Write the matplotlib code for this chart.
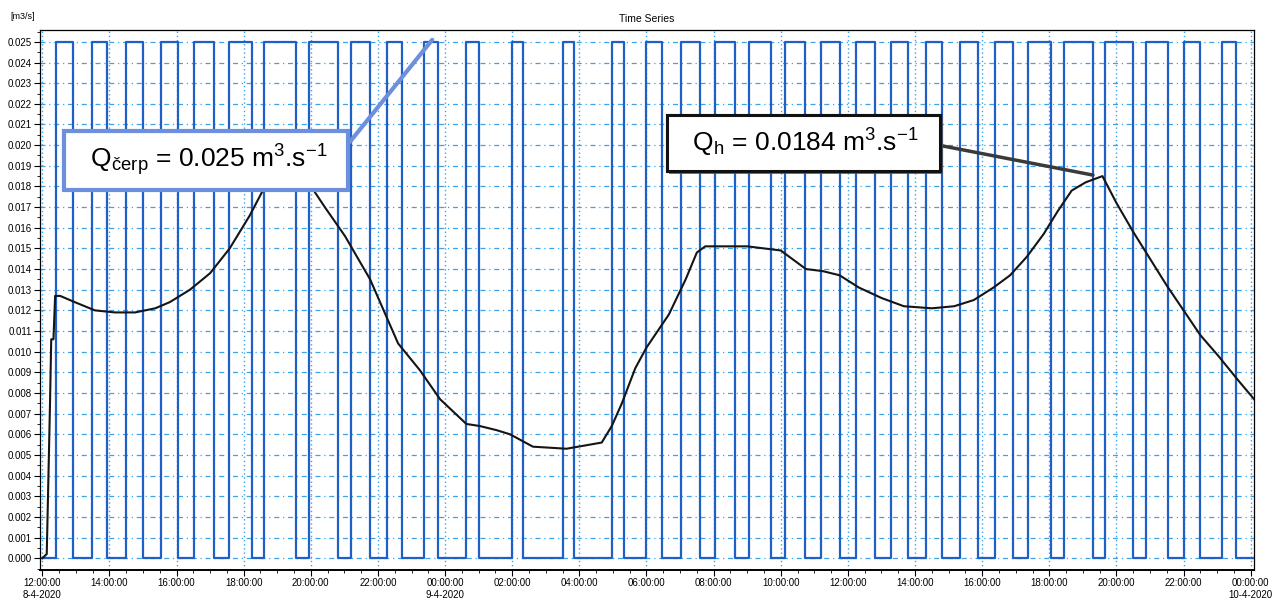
import numpy as np
import pandas as pd
import matplotlib
matplotlib.use("Agg")
import matplotlib.pyplot as plt
import matplotlib.dates as mdates
import matplotlib.patheffects as pe
from matplotlib.ticker import MultipleLocator, AutoMinorLocator, FuncFormatter

plt.rcParams['font.family'] = ['Liberation Sans', 'DejaVu Sans']
plt.rcParams['mathtext.fontset'] = 'custom'
plt.rcParams['mathtext.rm'] = 'Liberation Sans'
plt.rcParams['mathtext.default'] = 'regular'

# pumping (Q cerp) on/off switching times
pump_on = ["04-08 12:25", "04-08 13:28", "04-08 14:30", "04-08 15:32", "04-08 16:32",
           "04-08 17:33", "04-08 18:37", "04-08 19:56", "04-08 21:11", "04-08 22:16",
           "04-08 23:23", "04-09 00:38", "04-09 02:00", "04-09 03:31", "04-09 04:59",
           "04-09 06:00", "04-09 07:02", "04-09 08:02", "04-09 09:04", "04-09 10:08",
           "04-09 11:12", "04-09 12:15", "04-09 13:17", "04-09 14:19", "04-09 15:20",
           "04-09 16:23", "04-09 17:22", "04-09 18:26", "04-09 19:40", "04-09 20:53",
           "04-09 22:01", "04-09 23:08"]
pump_off = ["04-08 12:55", "04-08 13:56", "04-08 15:00", "04-08 16:03", "04-08 17:07",
            "04-08 18:14", "04-08 19:33", "04-08 20:49", "04-08 21:46", "04-08 22:43",
            "04-08 23:47", "04-09 01:00", "04-09 02:20", "04-09 03:51", "04-09 05:19",
            "04-09 06:28", "04-09 07:35", "04-09 08:39", "04-09 09:42", "04-09 10:44",
            "04-09 11:46", "04-09 12:48", "04-09 13:47", "04-09 14:49", "04-09 15:52",
            "04-09 16:55", "04-09 18:03", "04-09 19:19", "04-09 20:30", "04-09 21:33",
            "04-09 22:30", "04-09 23:33"]
q_pump = 0.025
series_start = "04-08 12:00"
series_end = "04-10 00:06"

# inflow Qh
qh_time = ["04-08 12:00", "04-08 12:08", "04-08 12:14", "04-08 12:16", "04-08 12:20",
           "04-08 12:23", "04-08 12:32", "04-08 12:58", "04-08 13:34", "04-08 14:10",
           "04-08 14:46", "04-08 15:22", "04-08 15:48", "04-08 16:24", "04-08 17:00",
           "04-08 17:35", "04-08 18:11", "04-08 18:38", "04-08 19:19", "04-08 19:58",
           "04-08 20:25", "04-08 21:01", "04-08 21:46", "04-08 22:36", "04-08 23:15",
           "04-08 23:51", "04-09 00:38", "04-09 01:02", "04-09 01:32", "04-09 01:56",
           "04-09 02:37", "04-09 03:37", "04-09 04:40", "04-09 04:58", "04-09 05:16",
           "04-09 05:40", "04-09 06:00", "04-09 06:40", "04-09 07:10", "04-09 07:30",
           "04-09 07:45", "04-09 08:30", "04-09 09:00", "04-09 09:30", "04-09 10:00",
           "04-09 10:25", "04-09 10:45", "04-09 11:15", "04-09 11:45", "04-09 12:20",
           "04-09 13:00", "04-09 13:40", "04-09 14:30", "04-09 15:10", "04-09 15:45",
           "04-09 16:20", "04-09 16:50", "04-09 17:20", "04-09 17:50", "04-09 18:15",
           "04-09 18:40", "04-09 19:05", "04-09 19:35", "04-09 20:00", "04-09 20:30",
           "04-09 21:00", "04-09 21:30", "04-09 22:00", "04-09 22:30", "04-09 23:02",
           "04-09 23:38", "04-10 00:06"]
qh_value = [0.0000, 0.0002, 0.0077, 0.0106, 0.0106,
            0.0127, 0.0127, 0.0124, 0.0120, 0.0119,
            0.0119, 0.0121, 0.0124, 0.0130, 0.0138,
            0.0150, 0.0166, 0.0180, 0.0188, 0.0181,
            0.0170, 0.0156, 0.0135, 0.0104, 0.0091,
            0.0077, 0.0065, 0.0064, 0.0062, 0.0060,
            0.0054, 0.0053, 0.0056, 0.0064, 0.0075,
            0.0092, 0.0102, 0.0118, 0.0135, 0.0148,
            0.0151, 0.0151, 0.0151, 0.0150, 0.0149,
            0.0144, 0.0140, 0.0139, 0.0137, 0.0131,
            0.0126, 0.0122, 0.0121, 0.0122, 0.0125,
            0.0131, 0.0137, 0.0146, 0.0157, 0.0168,
            0.0178, 0.0182, 0.0185, 0.0172, 0.0158,
            0.0145, 0.0132, 0.0120, 0.0108, 0.0098,
            0.0086, 0.0077]


def to_dt(lst):
    return pd.to_datetime(["2020-" + s for s in lst])


on = to_dt(pump_on)
off = to_dt(pump_off)
px = [to_dt([series_start])[0]]
py = [0.0]
for a, b in zip(on, off):
    px += [a, a, b, b]
    py += [0.0, q_pump, q_pump, 0.0]
px.append(to_dt([series_end])[0])
py.append(0.0)

fig = plt.figure(figsize=(12.79, 6.02), dpi=100)
ax = fig.add_axes([0.0313, 0.0532, 0.9492, 0.8968])

ax.plot(px, py, color='#1f5fc8', lw=1.6, zorder=3)
ax.plot(to_dt(qh_time), qh_value, color='#151515', lw=1.5, zorder=4)

ax.set_xlim(to_dt(["04-08 11:56"])[0], to_dt(["04-10 00:06"])[0])
ax.set_ylim(-0.00057, 0.02557)

ax.yaxis.set_major_locator(MultipleLocator(0.001))
ax.yaxis.set_minor_locator(AutoMinorLocator(2))
ax.yaxis.set_major_formatter(FuncFormatter(lambda v, p: f"{v:.3f}"))

ax.xaxis.set_major_locator(mdates.HourLocator(byhour=range(0, 24, 2)))
ax.xaxis.set_minor_locator(mdates.MinuteLocator(byminute=[0, 30]))


def fmt_x(v, p):
    d = mdates.num2date(v)
    s = d.strftime("%H:%M:%S")
    if d.hour == 0 or (d.day == 8 and d.hour == 12):
        s += f"\n{d.day}-{d.month}-{d.year}"
    return s


ax.xaxis.set_major_formatter(FuncFormatter(fmt_x))
ax.tick_params(axis='both', which='major', labelsize=7, length=4, width=0.8, direction='out', pad=2)
ax.tick_params(axis='both', which='minor', length=2, width=0.6, direction='out')

gcol = '#3aa3ea'
ax.grid(True, axis='y', which='major', color=gcol, lw=0.9, linestyle=(0, (4, 3, 1, 3)))
ax.grid(True, axis='x', which='major', color=gcol, lw=1.0, linestyle=(0, (1, 2)))
ax.set_axisbelow(True)
for sp in ax.spines.values():
    sp.set_linewidth(0.9)
ax.spines['bottom'].set_linewidth(1.4)

ax.set_title("Time Series", fontsize=7.5, pad=6)
fig.text(0.008, 0.972, "[m3/s]", fontsize=6.5, ha='left', va='center')

a1 = ax.annotate("  " + r"Q$_{čerp}$ = 0.025 m$^3$.s$^{-1}$" + "  ",
                 xy=(to_dt(["04-08 23:37"])[0], 0.0251),
                 xytext=(to_dt(["04-08 16:53"])[0], 0.01926),
                 fontsize=19, ha='center', va='center', zorder=6,
                 bbox=dict(boxstyle='square,pad=0.45', fc='white', ec='#6d8fdc', lw=3),
                 arrowprops=dict(arrowstyle='-', color='#6d8fdc', lw=3, relpos=(1, 0.55),
                                 shrinkA=0, shrinkB=0))

a2 = ax.annotate("  " + r"Q$_h$ = 0.0184 m$^3$.s$^{-1}$" + "  ",
                 xy=(to_dt(["04-09 19:18"])[0], 0.01855),
                 xytext=(to_dt(["04-09 10:40"])[0], 0.0201),
                 fontsize=19, ha='center', va='center', zorder=6,
                 bbox=dict(boxstyle='square,pad=0.45', fc='white', ec='#111111', lw=2.2),
                 arrowprops=dict(arrowstyle='-', color='#3a3a3a', lw=2.5, relpos=(1, 0.5),
                                 shrinkA=0, shrinkB=0))
a2.get_bbox_patch().set_path_effects([pe.withSimplePatchShadow(offset=(2, -2), shadow_rgbFace='#555555', alpha=0.8), pe.Normal()])

fig.savefig("out.png", dpi=100)
